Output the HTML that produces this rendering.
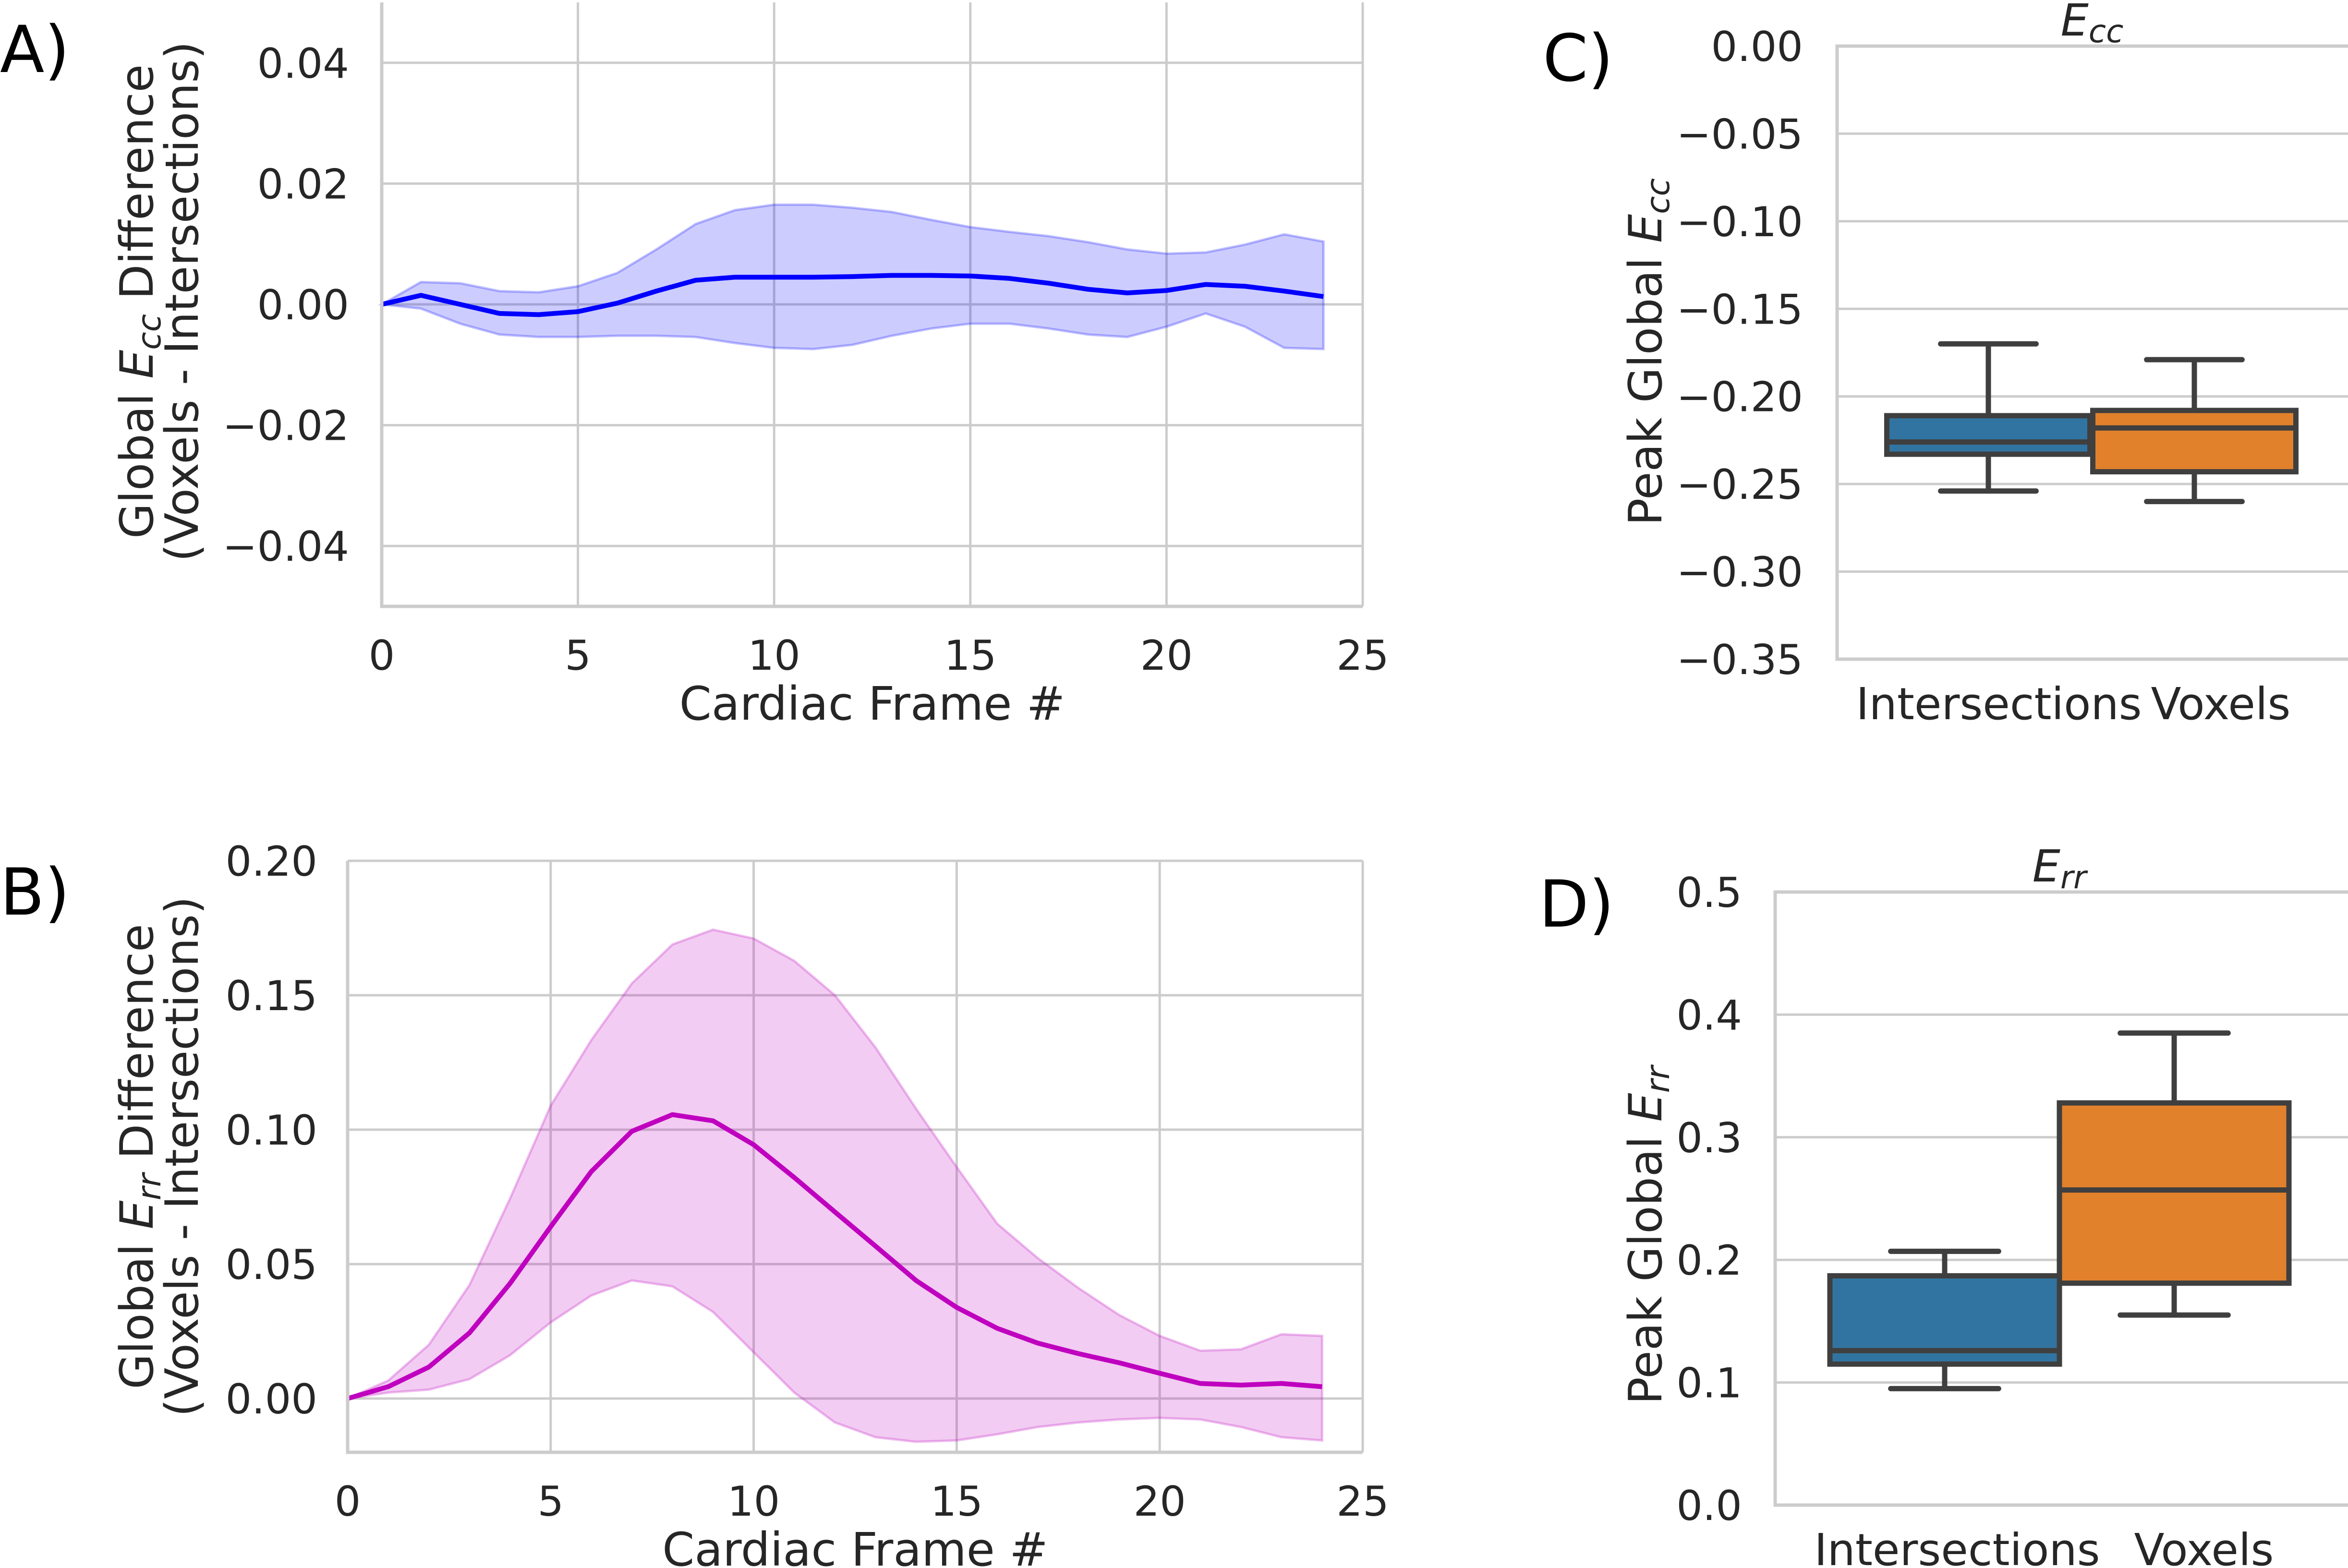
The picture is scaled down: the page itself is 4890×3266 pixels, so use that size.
<!DOCTYPE html>
<html><head><meta charset="utf-8"><style>
html,body{margin:0;padding:0;background:#fff;}
svg{display:block;font-family:"DejaVu Sans","Liberation Sans",sans-serif;}
</style></head><body>
<svg id="fig" width="4890" height="3266" viewBox="0 0 4890 3266" xmlns="http://www.w3.org/2000/svg"></svg>
<script>
// ---- data ----
const frames = [0,1,2,3,4,5,6,7,8,9,10,11,12,13,14,15,16,17,18,19,20,21,22,23,24];
const eccMean = [0,0.0015,0,-0.0015,-0.0017,-0.0012,0.0002,0.0022,0.004,0.0045,0.0045,0.0045,0.0046,0.0048,0.0048,0.0047,0.0043,0.0035,0.0025,0.0019,0.0023,0.0033,0.003,0.0022,0.0013];
const eccUpper = [0,0.0037,0.0035,0.0022,0.002,0.003,0.0052,0.0091,0.0133,0.0156,0.0165,0.0165,0.016,0.0153,0.014,0.0128,0.012,0.0113,0.0103,0.0091,0.0084,0.0086,0.0099,0.0116,0.0104];
const eccLower = [0,-0.0007,-0.0032,-0.005,-0.0054,-0.0054,-0.0052,-0.0052,-0.0054,-0.0064,-0.0072,-0.0074,-0.0067,-0.0052,-0.004,-0.0032,-0.0032,-0.004,-0.005,-0.0054,-0.0037,-0.0015,-0.0037,-0.0072,-0.0074];
const errMean = [0,0.0044,0.0117,0.0244,0.0428,0.0639,0.0844,0.0994,0.1056,0.1033,0.0944,0.0822,0.0694,0.0567,0.0439,0.0339,0.0261,0.0206,0.0167,0.0133,0.0094,0.0056,0.0050,0.0056,0.0044];
const errUpper = [0,0.0067,0.02,0.0422,0.0744,0.1089,0.1333,0.1544,0.1689,0.1744,0.1711,0.1628,0.15,0.1306,0.1078,0.0861,0.065,0.0522,0.0411,0.0311,0.0233,0.0178,0.0183,0.0239,0.0233];
const errLower = [0,0.0022,0.0033,0.0072,0.0161,0.0283,0.0383,0.0439,0.0417,0.0322,0.0172,0.0022,-0.0089,-0.0144,-0.0161,-0.0156,-0.0133,-0.0106,-0.0089,-0.0078,-0.0072,-0.0078,-0.0106,-0.0144,-0.0156];
const xTicks = [0,5,10,15,20,25];
const aYTicks = [0.04,0.02,0,-0.02,-0.04];
const aYLabels = ["0.04","0.02","0.00","\u22120.02","\u22120.04"];
const bYTicks = [0.2,0.15,0.1,0.05,0];
const bYLabels = ["0.20","0.15","0.10","0.05","0.00"];
const boxCats = ["Intersections","Voxels"];
const boxColors = ["#3274a1","#e1812c"];
// [whiskerLow, q1, median, q3, whiskerHigh]
const eccBoxes = [[-0.254,-0.233,-0.226,-0.211,-0.170],[-0.260,-0.243,-0.218,-0.208,-0.179]];
const errBoxes = [[0.095,0.115,0.126,0.187,0.207],[0.155,0.181,0.257,0.328,0.385]];
const cYTicks = [0,-0.05,-0.1,-0.15,-0.2,-0.25,-0.3,-0.35];
const cYLabels = ["0.00","\u22120.05","\u22120.10","\u22120.15","\u22120.20","\u22120.25","\u22120.30","\u22120.35"];
const dYTicks = [0.5,0.4,0.3,0.2,0.1,0];
const dYLabels = ["0.5","0.4","0.3","0.2","0.1","0.0"];

const NS="http://www.w3.org/2000/svg";
const svg=document.getElementById('fig');
function el(tag,attrs,parent,text){const e=document.createElementNS(NS,tag);for(const k in attrs)e.setAttribute(k,attrs[k]);if(text!==undefined)e.textContent=text;(parent||svg).appendChild(e);return e;}
const TXT="#262626", GRID="#cccccc", TF=86;

function lin(d0,d1,r0,r1){return v=>r0+(v-d0)*(r1-r0)/(d1-d0);}

function lineChart(name,L,R,T,B,ymin,ymax,yt,yl,mean,up,lo,color,fill,tickRight){
  const g=el('g',{},svg);
  
  
  const x=lin(0,25,L,R), y=lin(ymin,ymax,B,T);
  xTicks.forEach(t=>{const l=el('line',{x1:x(t),x2:x(t),y1:T,y2:B,stroke:GRID,'stroke-width':5},g);
    
    const tx=el('text',{x:x(t),y:B+132,'font-size':TF,fill:TXT,'text-anchor':'middle'},g,String(t));
    });
  yt.forEach((t,i)=>{const l=el('line',{x1:L,x2:R,y1:y(t),y2:y(t),stroke:GRID,'stroke-width':5},g);
    
    const tx=el('text',{x:tickRight,y:y(t)+31,'font-size':TF,fill:TXT,'text-anchor':'end'},g,yl[i]);
    });
  let d=frames.map((f,i)=>(i?'L':'M')+x(f)+','+y(up[i])).join('');
  d+=frames.slice().reverse().map((f,j)=>{const i=frames.length-1-j;return 'L'+x(f)+','+y(lo[i]);}).join('')+'Z';
  const band=el('path',{d:d,fill:fill,'fill-opacity':0.2,stroke:fill,'stroke-opacity':0.25,'stroke-width':5},g);
  
  const ml=el('path',{d:frames.map((f,i)=>(i?'L':'M')+x(f)+','+y(mean[i])).join(''),fill:'none',stroke:color,'stroke-width':10,'stroke-linejoin':'round'},g);
  
  const ax=el('path',{d:`M${L},${T}L${L},${B}L${R},${B}`,fill:'none',stroke:GRID,'stroke-width':7},g);
  
  const xl=el('text',{x:(L+R)/2,y:B+236,'font-size':96,fill:TXT,'text-anchor':'middle'},g,'Cardiac Frame #');
  
}

function boxChart(name,L,T,B,ymin,ymax,yt,yl,boxes,centers,bwid,labelX,tickRight,title,sub,titleX){
  const R=4900;
  const g=el('g',{},svg);
  
  
  const y=lin(ymin,ymax,B,T);
  yt.forEach((t,i)=>{const l=el('line',{x1:L,x2:R,y1:y(t),y2:y(t),stroke:GRID,'stroke-width':5},g);
    
    const tx=el('text',{x:tickRight,y:y(t)+31,'font-size':TF,fill:TXT,'text-anchor':'end'},g,yl[i]);
    });
  const fr=el('rect',{x:L,y:T,width:R-L,height:B-T,fill:'none',stroke:GRID,'stroke-width':7},g);
  
  boxes.forEach((b,i)=>{
    const cx=centers[i], hw=bwid/2, cap=bwid*0.235;
    const bg=el('g',{},g);
    
    
    el('line',{x1:cx,x2:cx,y1:y(b[0]),y2:y(b[1]),stroke:'#3f3f3f','stroke-width':11},bg);
    el('line',{x1:cx,x2:cx,y1:y(b[3]),y2:y(b[4]),stroke:'#3f3f3f','stroke-width':11},bg);
    el('line',{x1:cx-cap,x2:cx+cap,y1:y(b[0]),y2:y(b[0]),stroke:'#3f3f3f','stroke-width':11,'stroke-linecap':'round'},bg);
    el('line',{x1:cx-cap,x2:cx+cap,y1:y(b[4]),y2:y(b[4]),stroke:'#3f3f3f','stroke-width':11,'stroke-linecap':'round'},bg);
    el('rect',{x:cx-hw,y:y(b[3]),width:2*hw,height:y(b[1])-y(b[3]),fill:boxColors[i],stroke:'#3f3f3f','stroke-width':11},bg);
    el('line',{x1:cx-hw,x2:cx+hw,y1:y(b[2]),y2:y(b[2]),stroke:'#3f3f3f','stroke-width':11},bg);
    const tx=el('text',{x:labelX[i],y:B+125,'font-size':92,fill:TXT,'text-anchor':'middle'},g,boxCats[i]);
    
  });
  const t=el('text',{x:titleX,y:T-22,'font-size':92,fill:TXT,'text-anchor':'middle','font-style':'italic'},g);
  
  el('tspan',{},t,title);el('tspan',{'font-size':66,dy:14},t,sub);
}

// A
lineChart('panel-a-ecc-difference',795,2838,5,1263,-0.05,0.05,aYTicks,aYLabels,eccMean,eccUpper,eccLower,'#0000ff','#0000ff',727);
// B
lineChart('panel-b-err-difference',724,2838,1793,3025,-0.02,0.20,bYTicks,bYLabels,errMean,errUpper,errLower,'#bf00bf','#bf00bf',661);
// C
boxChart('panel-c-peak-ecc',3826,96,1373,-0.35,0,cYTicks,cYLabels,eccBoxes,[4141,4570],423,[4163,4625],3755,'E','cc',4357);
// D
boxChart('panel-d-peak-err',3697,1858,3135,0,0.5,dYTicks,dYLabels,errBoxes,[4050,4528],478,[4076,4590],3628,'E','rr',4289);

// y-axis titles
function yTitle(name,x,yc,parts){
  const t=el('text',{transform:`translate(${x},${yc}) rotate(-90)`,'font-size':95,fill:TXT,'text-anchor':'middle'});
  
  parts.forEach(p=>el('tspan',p[1],t,p[0]));
}
yTitle('y-axis-title-a-line1',318,628,[["Global "],["E",{'font-style':'italic'}],["cc",{'font-style':'italic','font-size':68,dy:16}],[" Difference",{dy:-16}]]);
yTitle('y-axis-title-a-line2',412,628,[["(Voxels - Intersections)"]]);
yTitle('y-axis-title-b-line1',318,2409,[["Global "],["E",{'font-style':'italic'}],["rr",{'font-style':'italic','font-size':68,dy:16}],[" Difference",{dy:-16}]]);
yTitle('y-axis-title-b-line2',412,2409,[["(Voxels - Intersections)"]]);
yTitle('y-axis-title-c',3460,733,[["Peak Global "],["E",{'font-style':'italic'}],["cc",{'font-style':'italic','font-size':68,dy:16}]]);
yTitle('y-axis-title-d',3460,2573,[["Peak Global "],["E",{'font-style':'italic'}],["rr",{'font-style':'italic','font-size':68,dy:16}]]);

// panel labels
[["A)",0,150],["B)",0,1905],["C)",3213,168],["D)",3205,1930]].forEach(p=>{
  const t=el('text',{x:p[1],y:p[2],'font-size':135,fill:'#000'},svg,p[0]);
  
  
});
</script>
</body></html>
